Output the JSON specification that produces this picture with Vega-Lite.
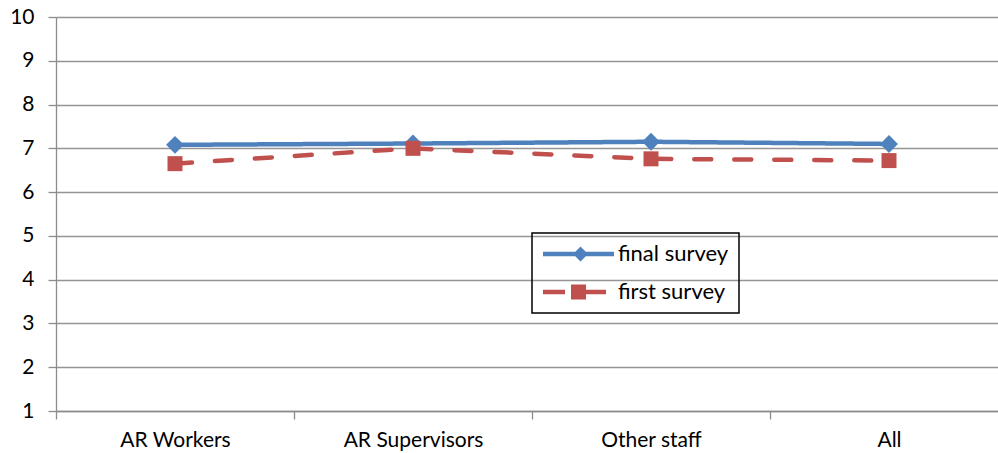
{
  "$schema": "https://vega.github.io/schema/vega-lite/v6.json",
  "width": 942,
  "height": 394,
  "autosize": {"type": "none"},
  "padding": {"left": 56, "top": 17, "right": 0, "bottom": 42},
  "config": {"view": {"stroke": null}, "font": "Lato"},
  "data": {
    "values": [
      {"group": "AR Workers", "series": "final survey", "value": 7.08},
      {"group": "AR Supervisors", "series": "final survey", "value": 7.11},
      {"group": "Other staff", "series": "final survey", "value": 7.15},
      {"group": "All", "series": "final survey", "value": 7.1},
      {"group": "AR Workers", "series": "first survey", "value": 6.65},
      {"group": "AR Supervisors", "series": "first survey", "value": 7.0},
      {"group": "Other staff", "series": "first survey", "value": 6.76},
      {"group": "All", "series": "first survey", "value": 6.72}
    ]
  },
  "encoding": {
    "x": {
      "field": "group",
      "type": "nominal",
      "sort": ["AR Workers", "AR Supervisors", "Other staff", "All"],
      "scale": {"range": [0, 952], "paddingInner": 0, "paddingOuter": 0},
      "axis": {
        "title": null,
        "labelAngle": 0,
        "tickBand": "extent",
        "tickSize": 8,
        "tickColor": "#8c8c8c",
        "tickWidth": 1.3,
        "domainColor": "#8c8c8c",
        "domainWidth": 1.3,
        "labelFontSize": 21,
        "labelColor": "black",
        "labelPadding": 10,
        "grid": false
      }
    },
    "y": {
      "field": "value",
      "type": "quantitative",
      "scale": {"domain": [1, 10], "nice": false, "zero": false},
      "axis": {
        "title": null,
        "values": [1, 2, 3, 4, 5, 6, 7, 8, 9, 10],
        "grid": true,
        "gridColor": "#959595",
        "gridWidth": 1.3,
        "tickSize": 8,
        "tickColor": "#8c8c8c",
        "tickWidth": 1.3,
        "domainColor": "#8c8c8c",
        "domainWidth": 1.3,
        "labelFontSize": 21,
        "labelColor": "black",
        "labelPadding": 14
      }
    },
    "color": {
      "field": "series",
      "type": "nominal",
      "scale": {"domain": ["final survey", "first survey"], "range": ["#4f81bd", "#c0504d"]},
      "legend": {
        "title": null,
        "orient": "none",
        "legendX": 476,
        "legendY": 216,
        "strokeColor": "black",
        "padding": 10,
        "symbolSize": 400,
        "symbolStrokeWidth": 0,
        "symbolType": {"expr": "datum.value === 'final survey' ? 'M-1,-0.22H6.1V0.22H-1Z M2.75,-0.75L3.5,0L2.75,0.75L2,0Z' : 'M-1,-0.22H1.2V0.22H-1Z M1.8,-0.75H3.3V0.75H1.8Z M3.3,-0.22H5.3V0.22H3.3Z'"},
        "labelOffset": 54,
        "rowPadding": 16,
        "labelFontSize": 22,
        "labelColor": "black",
        "encode": {
          "legend": {"update": {"strokeWidth": {"value": 1.5}}},
          "symbols": {
            "update": {
              "shape": {"signal": "datum.value === 'final survey' ? 'M-1,-0.22H6.1V0.22H-1Z M2.75,-0.75L3.5,0L2.75,0.75L2,0Z' : 'M-1,-0.22H1.2V0.22H-1Z M1.8,-0.75H3.3V0.75H1.8Z M3.3,-0.22H5.3V0.22H3.3Z'"},
              "fill": {"signal": "datum.value === 'final survey' ? '#4f81bd' : '#c0504d'"},
              "stroke": {"value": "transparent"},
              "strokeWidth": {"value": 0},
              "strokeDash": {"value": [1, 0]},
              "opacity": {"value": 1},
              "fillOpacity": {"value": 1}
            }
          }
        }
      }
    }
  },
  "layer": [
    {
      "mark": {"type": "line", "strokeWidth": 4.5, "strokeCap": "round", "strokeJoin": "round"},
      "encoding": {
        "strokeDash": {
          "field": "series",
          "type": "nominal",
          "scale": {"domain": ["final survey", "first survey"], "range": [[1, 0], [17, 23]]},
          "legend": null
        }
      }
    },
    {
      "transform": [{"filter": "datum.series === 'final survey'"}],
      "mark": {"type": "point", "filled": true, "opacity": 1, "shape": "diamond", "size": 320}
    },
    {
      "transform": [{"filter": "datum.series === 'first survey'"}],
      "mark": {"type": "point", "filled": true, "opacity": 1, "shape": "square", "size": 225}
    }
  ]
}
